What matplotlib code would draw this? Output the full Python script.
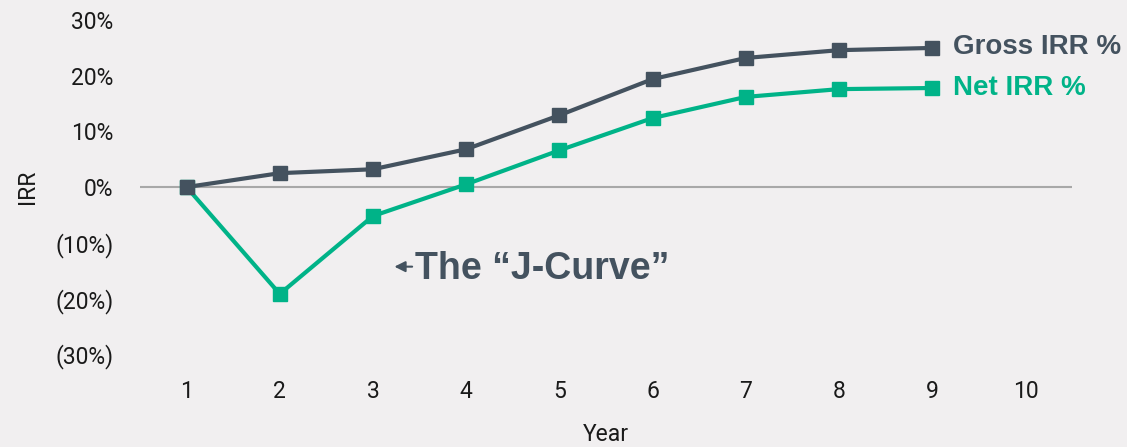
import matplotlib.pyplot as plt
from matplotlib.ticker import FuncFormatter

years = [1, 2, 3, 4, 5, 6, 7, 8, 9]
gross_irr = [0.0, 2.5, 3.2, 6.8, 12.9, 19.4, 23.2, 24.6, 25.0]
net_irr = [0.0, -19.2, -5.2, 0.5, 6.6, 12.4, 16.2, 17.6, 17.8]
x_ticks = [1, 2, 3, 4, 5, 6, 7, 8, 9, 10]
y_ticks = [-30, -20, -10, 0, 10, 20, 30]

GROSS = '#44525f'
NET = '#00b388'
BG = '#f1eff0'
TXT = '#1a1a1a'


def pct(v, pos):
    if v < 0:
        return '({:.0f}%)'.format(-v)
    return '{:.0f}%'.format(v)


fig = plt.figure(figsize=(11.27, 4.47), dpi=100, facecolor=BG)
ax = fig.add_axes([0.1242, 0.208, 0.827, 0.747], facecolor=BG)

ax.axhline(0, color='#a8a8a8', linewidth=1.5, zorder=1)

ax.plot(years, gross_irr, color=GROSS, linewidth=3, marker='s', markersize=10, zorder=3)
ax.plot(years, net_irr, color=NET, linewidth=3, marker='s', markersize=10, zorder=2)

# series labels at the end of each line
ax.annotate('Gross IRR %', xy=(years[-1], gross_irr[-1]), xytext=(15, 1), textcoords='offset points',
            va='center', ha='left', fontsize=20, fontweight='bold', color=GROSS,
            family='Liberation Sans', annotation_clip=False)
ax.annotate('Net IRR %', xy=(years[-1], net_irr[-1]), xytext=(15, 0), textcoords='offset points',
            va='center', ha='left', fontsize=20, fontweight='bold', color=NET,
            family='Liberation Sans', annotation_clip=False)

# J-curve callout
ax.text(3.45, -14.8, 'The \u201cJ-Curve\u201d', fontsize=27, fontweight='bold', color=GROSS,
        family='Liberation Sans', va='center', ha='left')
ax.annotate('', xy=(3.2, -14.3), xytext=(3.45, -14.3),
            arrowprops=dict(arrowstyle='-|>', color=GROSS, lw=1.5, mutation_scale=16))

ax.set_xlim(0.5, 10.5)
ax.set_ylim(-30, 30)
ax.set_xticks(x_ticks)
ax.set_yticks(y_ticks)
ax.yaxis.set_major_formatter(FuncFormatter(pct))

for s in ax.spines.values():
    s.set_visible(False)
ax.tick_params(axis='both', length=0, labelsize=16.5, labelcolor=TXT)
ax.tick_params(axis='x', pad=19)
ax.tick_params(axis='y', pad=19)
for lbl in ax.get_xticklabels() + ax.get_yticklabels():
    lbl.set_family('Roboto')

ax.set_xlabel('Year', fontsize=16.5, family='Roboto', color=TXT, labelpad=14)
ax.set_ylabel('IRR', fontsize=16.5, family='Roboto', color=TXT, labelpad=12)

fig.savefig('out.png', dpi=100, facecolor=BG)
